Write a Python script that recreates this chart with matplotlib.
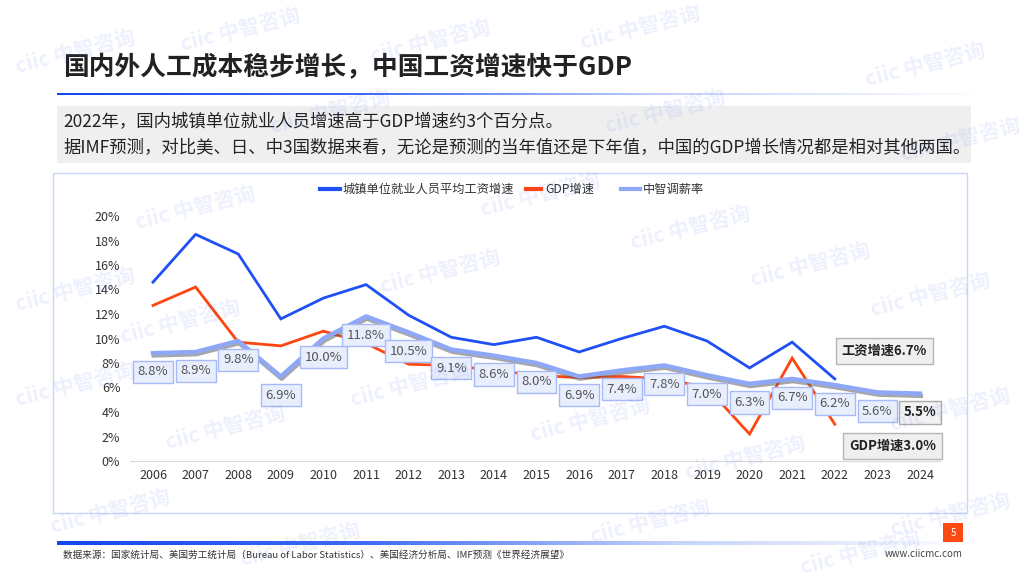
import matplotlib
matplotlib.use("Agg")
import matplotlib.pyplot as plt
import matplotlib.patheffects as pe
from matplotlib.patches import Rectangle
from matplotlib.colors import LinearSegmentedColormap
import numpy as np

plt.rcParams['font.family'] = ['Noto Sans CJK SC', 'DejaVu Sans']

years = list(range(2006, 2025))
wage_years = list(range(2006, 2023))
wage = [14.6, 18.5, 16.9, 11.6, 13.3, 14.4, 11.9, 10.1, 9.5, 10.1, 8.9, 10.0, 11.0, 9.8, 7.6, 9.7, 6.7]
gdp = [12.7, 14.2, 9.7, 9.4, 10.6, 9.6, 7.9, 7.8, 7.4, 7.0, 6.8, 6.9, 6.7, 6.0, 2.2, 8.4, 3.0]
ciic = [8.8, 8.9, 9.8, 6.9, 10.0, 11.8, 10.5, 9.1, 8.6, 8.0, 6.9, 7.4, 7.8, 7.0, 6.3, 6.7, 6.2, 5.6, 5.5]

title = "国内外人工成本稳步增长，中国工资增速快于GDP"
sub1 = "2022年，国内城镇单位就业人员增速高于GDP增速约3个百分点。"
sub2 = "据IMF预测，对比美、日、中3国数据来看，无论是预测的当年值还是下年值，中国的GDP增长情况都是相对其他两国。"
legend_labels = ["城镇单位就业人员平均工资增速", "GDP增速", "中智调薪率"]
source = "数据来源：国家统计局、美国劳工统计局（Bureau of Labor Statistics）、美国经济分析局、IMF预测《世界经济展望》"
site = "www.ciicmc.com"
page = "5"
ann_wage = "工资增速6.7%"
ann_gdp = "GDP增速3.0%"

C_BLUE = "#1f4ff5"
C_RED = "#ff4510"
C_LB = "#8ea7f6"

W, H = 1024, 576
fig = plt.figure(figsize=(W / 100, H / 100), dpi=100)

def fx(x):
    return x / W

def fy(y):
    return 1 - y / H

def grad_line(x0, x1, y, h):
    a = fig.add_axes([fx(x0), fy(y + h / 2), fx(x1 - x0), h / H], zorder=3)
    cmap = LinearSegmentedColormap.from_list("g", ["#1247f0", "#3f6cf3", "#c5d3fb", "#ffffff"])
    a.imshow(np.linspace(0, 1, 256)[None, :], aspect="auto", cmap=cmap)
    a.set_axis_off()

# title
fig.text(fx(63), fy(68), title, fontsize=18.5, fontweight="bold", color="#222222", va="center", ha="left", zorder=5)
grad_line(57, 985, 94, 3)

# subtitle box
fig.patches.append(Rectangle((fx(57), fy(163)), fx(971 - 57), (163 - 106) / H,
                             transform=fig.transFigure, facecolor="#efefef", edgecolor="none", zorder=-2))
fig.text(fx(63), fy(122), sub1, fontsize=12.5, color="#222222", va="center", ha="left", zorder=5)
fig.text(fx(63), fy(148), sub2, fontsize=12.5, color="#222222", va="center", ha="left", zorder=5)

# chart box
fig.patches.append(Rectangle((fx(53), fy(513)), fx(967 - 53), (513 - 173) / H,
                             transform=fig.transFigure, facecolor="white", edgecolor="#c9d5fa", lw=1, zorder=-2))

# axes
ax = fig.add_axes([fx(130), fy(461), fx(940 - 130), (461 - 216) / H], zorder=4)
ax.set_xlim(2006 - 23 / 42.61, 2024 + 20 / 42.61)
ax.set_ylim(0, 20)
ax.patch.set_alpha(0)
for s in ["top", "right", "left"]:
    ax.spines[s].set_visible(False)
ax.spines["bottom"].set_color("#d9d9d9")
ax.set_yticks(range(0, 21, 2))
ax.set_yticklabels([f"{v}%" for v in range(0, 21, 2)])
ax.set_xticks(years)
ax.set_xticklabels([str(y) for y in years])
ax.tick_params(length=0, labelsize=9, colors="#333333")
ax.tick_params(axis="y", pad=7)
ax.tick_params(axis="x", pad=6)

ax.plot(wage_years, wage, color=C_BLUE, lw=2.0, zorder=3, solid_joinstyle="miter")
ax.plot(wage_years, gdp, color=C_RED, lw=2.0, zorder=3, solid_joinstyle="miter")
ax.plot(years, ciic, color=C_LB, lw=3.2, zorder=4,
        path_effects=[pe.SimpleLineShadow(offset=(0.6, -1.6), shadow_color="#606060", alpha=0.55), pe.Normal()])

for i, (x, v) in enumerate(zip(years, ciic)):
    last = i == len(years) - 1
    ax.annotate(f"{v:.1f}%", (x, v), xytext=(0, -13.5), textcoords="offset points",
                ha="center", va="center", fontsize=9.5,
                color="#222222" if last else "#555555",
                fontweight="bold" if last else "normal",
                bbox=dict(boxstyle="square,pad=0.35",
                          facecolor="#f2f2f2" if last else "#e9eefd",
                          edgecolor="#aaaaaa" if last else "#a7baf7", lw=1),
                zorder=6)

ax.text(2023.16, 8.98, ann_wage, ha="center", va="center", fontsize=9.5, fontweight="bold", color="#222222",
        bbox=dict(boxstyle="square,pad=0.45", facecolor="#efefef", edgecolor="#b5b5b5", lw=1), zorder=6)
ax.text(2023.35, 1.22, ann_gdp, ha="center", va="center", fontsize=9.5, fontweight="bold", color="#222222",
        bbox=dict(boxstyle="square,pad=0.45", facecolor="#efefef", edgecolor="#b5b5b5", lw=1), zorder=6)

# legend
leg_items = [(320, 340, 343, C_BLUE, legend_labels[0]),
             (526, 541, 545, C_RED, legend_labels[1]),
             (621, 640, 643, C_LB, legend_labels[2])]
for x0, x1, xt, c, lab in leg_items:
    fig.add_artist(plt.Line2D([fx(x0), fx(x1)], [fy(189), fy(189)], color=c, lw=3, transform=fig.transFigure,
                              zorder=5))
    fig.text(fx(xt), fy(189), lab, fontsize=8.8, color="#333333", va="center", ha="left", zorder=5)

# footer
grad_line(57, 985, 543, 3.5)
fig.text(fx(63), fy(555), source, fontsize=6.9, color="#333333", va="center", ha="left", zorder=5)
fig.text(fx(963), fy(554), site, fontsize=7, color="#444444", va="center", ha="right", zorder=5)
fig.patches.append(Rectangle((fx(943), fy(542)), fx(20), 19 / H, transform=fig.transFigure,
                             facecolor="#fb4b12", edgecolor="none", zorder=5))
fig.text(fx(953), fy(532.5), page, fontsize=7, color="white", va="center", ha="center", zorder=6)

# watermarks
wm = [(240, 30), (640, 28), (75, 52), (430, 42), (925, 65), (665, 112), (330, 112), (960, 140),
      (195, 208), (540, 195), (690, 228), (810, 265), (440, 272), (180, 322), (75, 290), (930, 295),
      (75, 385), (410, 385), (590, 420), (225, 428), (745, 458), (950, 410), (650, 522), (950, 515),
      (110, 512), (300, 545), (860, 553)]
for (x, y) in wm:
    fig.text(fx(x), fy(y), "ciic 中智咨询", fontsize=15, fontweight="bold", color="#3d64f0", alpha=0.09,
             rotation=14, ha="center", va="center", zorder=20)

fig.savefig("out.png", dpi=100)
